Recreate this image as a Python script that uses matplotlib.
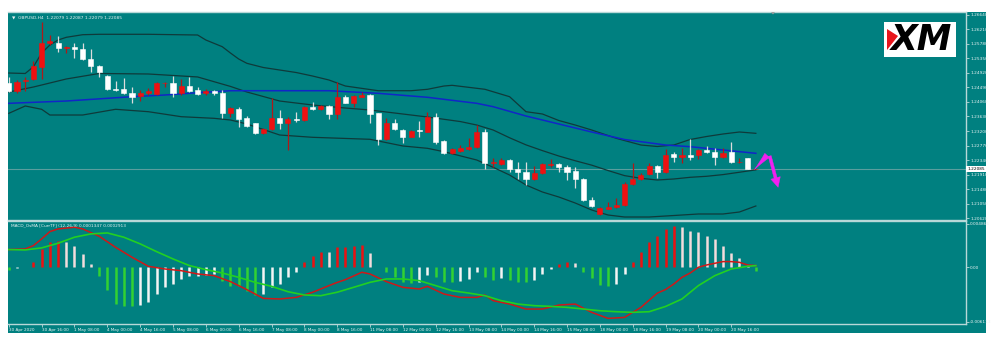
import numpy as np
import matplotlib
matplotlib.use("Agg")
import matplotlib.pyplot as plt
from matplotlib.patches import Rectangle, Polygon
import matplotlib.transforms as mtransforms

W, H = 999, 344
TEAL = "#008080"
RED = "#ee1111"
BAND = "#0f3a3a"
BLUE = "#1126c8"
FRAME = "#b8d8d8"
TXT = "#e8f2f2"

# GBPUSD H4 candles, bar 0 = 30 Apr 2020 00:00
opens = [1.2462, 1.2438, 1.2467, 1.2473, 1.2510, 1.2580, 1.2581, 1.2565, 1.2568, 1.2562,
         1.2532, 1.2512, 1.2483, 1.2445, 1.2443, 1.2432, 1.2424, 1.2432, 1.2430, 1.2461,
         1.2461, 1.2432, 1.2453, 1.2441, 1.2432, 1.2437, 1.2432, 1.2373, 1.2384, 1.2358,
         1.2343, 1.2313, 1.2325, 1.2358, 1.2343, 1.2355, 1.2353, 1.2392, 1.2384, 1.2394,
         1.2369, 1.2422, 1.2404, 1.2422, 1.2427, 1.2373, 1.2295, 1.2343, 1.2323, 1.2303,
         1.2323, 1.2318, 1.2361, 1.2290, 1.2254, 1.2262, 1.2266, 1.2274, 1.2318, 1.2226,
         1.2221, 1.2234, 1.2207, 1.2200, 1.2177, 1.2195, 1.2219, 1.2221, 1.2214, 1.2202,
         1.2177, 1.2116, 1.2074, 1.2089, 1.2094, 1.2101, 1.2162, 1.2177, 1.2192, 1.2216,
         1.2200, 1.2251, 1.2242, 1.2249, 1.2249, 1.2264, 1.2259, 1.2242, 1.2259, 1.2227,
         1.2239, 1.22079]
highs = [1.2480, 1.2471, 1.2481, 1.2528, 1.2644, 1.2604, 1.2601, 1.2572, 1.2580, 1.2581,
         1.2562, 1.2515, 1.2486, 1.2469, 1.2476, 1.2451, 1.2441, 1.2446, 1.2466, 1.2466,
         1.2483, 1.2473, 1.2481, 1.2451, 1.2444, 1.2441, 1.2441, 1.2390, 1.2390, 1.2364,
         1.2345, 1.2329, 1.2417, 1.2382, 1.2362, 1.2377, 1.2394, 1.2407, 1.2397, 1.2397,
         1.2466, 1.2427, 1.2426, 1.2436, 1.2429, 1.2374, 1.2358, 1.2355, 1.2325, 1.2323,
         1.2351, 1.2377, 1.2373, 1.2293, 1.2270, 1.2279, 1.2298, 1.2338, 1.2325, 1.2239,
         1.2239, 1.2236, 1.2229, 1.2229, 1.2216, 1.2226, 1.2236, 1.2226, 1.2219, 1.2214,
         1.2180, 1.2124, 1.2095, 1.2111, 1.2121, 1.2170, 1.2224, 1.2195, 1.2226, 1.2219,
         1.2266, 1.2259, 1.2269, 1.2295, 1.2266, 1.2276, 1.2269, 1.2269, 1.2288, 1.2239,
         1.2240, 1.22087]
lows = [1.2435, 1.2434, 1.2439, 1.2471, 1.2473, 1.2575, 1.2555, 1.2550, 1.2535, 1.2530,
        1.2496, 1.2481, 1.2441, 1.2439, 1.2430, 1.2404, 1.2410, 1.2427, 1.2427, 1.2451,
        1.2420, 1.2427, 1.2436, 1.2427, 1.2426, 1.2427, 1.2358, 1.2362, 1.2333, 1.2332,
        1.2311, 1.2311, 1.2323, 1.2325, 1.2264, 1.2348, 1.2351, 1.2382, 1.2382, 1.2355,
        1.2355, 1.2402, 1.2390, 1.2420, 1.2345, 1.2279, 1.2293, 1.2323, 1.2284, 1.2301,
        1.2303, 1.2316, 1.2282, 1.2252, 1.2252, 1.2259, 1.2264, 1.2269, 1.2207, 1.2213,
        1.2219, 1.2200, 1.2177, 1.2160, 1.2175, 1.2193, 1.2214, 1.2200, 1.2175, 1.2151,
        1.2114, 1.2095, 1.2071, 1.2088, 1.2091, 1.2099, 1.2160, 1.2175, 1.2190, 1.2180,
        1.2197, 1.2229, 1.2224, 1.2234, 1.2236, 1.2256, 1.2219, 1.2239, 1.2225, 1.2225,
        1.2207, 1.22079]
closes = [1.2438, 1.2466, 1.2472, 1.2513, 1.2581, 1.2586, 1.2565, 1.2570, 1.2562, 1.2533,
          1.2512, 1.2494, 1.2443, 1.2441, 1.2432, 1.2422, 1.2433, 1.2439, 1.2463, 1.2463,
          1.2432, 1.2453, 1.2439, 1.2430, 1.2438, 1.2433, 1.2373, 1.2387, 1.2357, 1.2335,
          1.2315, 1.2325, 1.2358, 1.2343, 1.2355, 1.2353, 1.2392, 1.2384, 1.2394, 1.2369,
          1.2422, 1.2404, 1.2424, 1.2427, 1.2369, 1.2295, 1.2343, 1.2325, 1.2303, 1.2321,
          1.2319, 1.2361, 1.2288, 1.2256, 1.2266, 1.2269, 1.2274, 1.2318, 1.2224, 1.2227,
          1.2234, 1.2207, 1.2200, 1.2177, 1.2195, 1.2221, 1.2221, 1.2214, 1.2200, 1.2177,
          1.2116, 1.2098, 1.2091, 1.2094, 1.2101, 1.2162, 1.2177, 1.2190, 1.2216, 1.2200,
          1.2249, 1.2244, 1.2249, 1.2242, 1.2264, 1.2258, 1.2244, 1.2256, 1.2227, 1.2229,
          1.2208, 1.22085]

# Bollinger bands and moving average (bar index, price)
upper_bar = [0, 2, 3, 4, 5, 6, 7, 9, 11, 17, 23, 24, 26, 27, 28, 29, 31, 33, 35, 37, 39, 41,
             45, 49, 51, 53, 54, 56, 58, 61, 63, 65, 67, 69, 71, 74, 77, 79, 81, 83, 85, 87,
             89, 91]
upper_val = [1.24917, 1.24903, 1.25104, 1.25509, 1.25746, 1.25894, 1.25974, 1.26051, 1.26063,
             1.26063, 1.26042, 1.25894, 1.25696, 1.25509, 1.25332, 1.25204, 1.25080, 1.25006,
             1.24932, 1.24828, 1.24710, 1.24532, 1.24393, 1.24393, 1.24435, 1.24532, 1.24553,
             1.24494, 1.24435, 1.24216, 1.23772, 1.23704, 1.23511, 1.23378, 1.23230, 1.22984,
             1.22786, 1.22742, 1.22786, 1.22949, 1.23038, 1.23112, 1.23171, 1.23132]
mid_bar = [0, 3, 7, 11, 17, 23, 27, 29, 33, 37, 41, 44, 47, 51, 55, 57, 59, 61, 63, 65, 67,
           69, 71, 73, 75, 77, 79, 81, 83, 85, 87, 89, 91]
mid_val = [1.24355, 1.24503, 1.24740, 1.24903, 1.24888, 1.24800, 1.24520, 1.24355, 1.24088,
           1.23970, 1.23881, 1.23822, 1.23733, 1.23615, 1.23480, 1.23378, 1.23230, 1.23000,
           1.22790, 1.22620, 1.22460, 1.22320, 1.22190, 1.22030, 1.21880, 1.21800, 1.21750,
           1.21780, 1.21830, 1.21860, 1.21910, 1.21980, 1.22050]
lower_bar = [0, 2, 4, 5, 9, 13, 17, 21, 25, 27, 29, 33, 37, 44, 48, 51, 53, 57, 59, 61, 63,
             65, 67, 69, 71, 73, 75, 78, 81, 84, 87, 89, 91]
lower_val = [1.23724, 1.23941, 1.23843, 1.23674, 1.23674, 1.23843, 1.23772, 1.23624, 1.23576,
             1.23526, 1.23408, 1.23082, 1.23014, 1.22955, 1.22757, 1.22688, 1.22588, 1.22342,
             1.22126, 1.21898, 1.21602, 1.21395, 1.21247, 1.21069, 1.20862, 1.20714, 1.20655,
             1.20655, 1.20699, 1.20744, 1.20744, 1.20803, 1.20981]
ma_bar = [0, 7, 15, 19, 23, 27, 39, 45, 51, 57, 59, 63, 67, 71, 75, 80, 83, 87, 91]
ma_val = [1.24020, 1.24088, 1.24216, 1.24266, 1.24334, 1.24393, 1.24393, 1.24316, 1.24198,
          1.24020, 1.23920, 1.23644, 1.23408, 1.23171, 1.22949, 1.22786, 1.22736, 1.22638,
          1.22540]

# projected path drawn after the last bar
path_bar = [90.6, 92.6, 93.8]
path_val = [1.22000, 1.22540, 1.21454]

last_price = 1.22085
price_ticks = [1.26640 - 0.0043 * k for k in range(15)]

# MACD_OsMA sub-window
osma = [-0.00030, -0.00005, 0.00003, 0.00064, 0.00206, 0.00289, 0.00300, 0.00289, 0.00244, 0.00150,
        0.00037, -0.00094, -0.00251, -0.00413, -0.00439, -0.00440, -0.00424, -0.00386, -0.00300, -0.00218,
        -0.00188, -0.00131, -0.00101, -0.00094, -0.00086, -0.00075, -0.00150, -0.00206, -0.00214, -0.00263,
        -0.00310, -0.00300, -0.00225, -0.00188, -0.00105, -0.00049, 0.00056, 0.00124, 0.00176, 0.00169,
        0.00225, 0.00230, 0.00244, 0.00251, 0.00161, 0.00003, -0.00056, -0.00113, -0.00169, -0.00176,
        -0.00169, -0.00086, -0.00105, -0.00161, -0.00169, -0.00158, -0.00131, -0.00056, -0.00113, -0.00139,
        -0.00124, -0.00139, -0.00161, -0.00169, -0.00143, -0.00075, -0.00019, 0.00037, 0.00056, 0.00045,
        -0.00049, -0.00124, -0.00199, -0.00206, -0.00188, -0.00075, 0.00064, 0.00176, 0.00289, 0.00349,
        0.00431, 0.00462, 0.00458, 0.00413, 0.00394, 0.00356, 0.00319, 0.00244, 0.00161, 0.00101,
        0.00026, -0.00037]
macd_bar = [0, 2, 3, 4, 5, 6, 8, 9, 11, 13, 15, 17, 19, 21, 23, 25, 27, 29, 31, 33, 35, 37, 39,
            40, 41, 43, 44, 46, 48, 50, 51, 53, 55, 57, 58, 59, 61, 63, 65, 67, 69, 71, 73, 75,
            77, 79, 80, 81, 82, 83, 84, 85, 86, 87, 88, 89, 90, 91]
macd_val = [0.00199, 0.00206, 0.00244, 0.00319, 0.00401, 0.00431, 0.00450, 0.00431, 0.00349,
            0.00225, 0.00113, 0.00011, -0.00019, -0.00038, -0.00075, -0.00094, -0.00161, -0.00251,
            -0.00349, -0.00356, -0.00338, -0.00281, -0.00206, -0.00170, -0.00139, -0.00056,
            -0.00075, -0.00161, -0.00225, -0.00244, -0.00214, -0.00300, -0.00338, -0.00338,
            -0.00311, -0.00375, -0.00413, -0.00469, -0.00469, -0.00424, -0.00413, -0.00506,
            -0.00574, -0.00563, -0.00450, -0.00290, -0.00250, -0.00188, -0.00113, -0.00064, 0.0,
            0.00026, 0.00045, 0.00064, 0.00064, 0.00056, 0.00026, 0.00019]
signal_bar = [0, 2, 4, 6, 8, 10, 12, 14, 16, 18, 20, 22, 24, 26, 28, 30, 32, 34, 36, 38, 40,
              42, 44, 46, 48, 50, 52, 54, 56, 58, 60, 62, 64, 66, 68, 70, 72, 74, 76, 78, 80,
              82, 84, 86, 88, 90, 91]
signal_val = [0.00199, 0.00195, 0.00218, 0.00270, 0.00338, 0.00375, 0.00386, 0.00338, 0.00263,
              0.00176, 0.00094, 0.00019, -0.00026, -0.00064, -0.00113, -0.00169, -0.00214,
              -0.00274, -0.00311, -0.00319, -0.00280, -0.00225, -0.00169, -0.00131, -0.00131,
              -0.00150, -0.00206, -0.00263, -0.00289, -0.00319, -0.00375, -0.00413, -0.00431,
              -0.00439, -0.00450, -0.00469, -0.00488, -0.00499, -0.00506, -0.00499, -0.00440,
              -0.00356, -0.00206, -0.00094, -0.00019, 0.00011, 0.00019]
macd_ticks = [0.004865, 0.0, -0.006113]
macd_tick_labels = ["0.004865", "0.00", "-0.006113"]

time_bar = list(range(0, 89, 4))
time_labels = ["30 Apr 2020", "30 Apr 16:00", "1 May 08:00", "4 May 00:00", "4 May 16:00",
               "5 May 08:00", "6 May 00:00", "6 May 16:00", "7 May 08:00", "8 May 00:00",
               "8 May 16:00", "11 May 08:00", "12 May 00:00", "12 May 16:00", "13 May 08:00",
               "14 May 00:00", "14 May 16:00", "15 May 08:00", "18 May 00:00", "18 May 16:00",
               "19 May 08:00", "20 May 00:00", "20 May 16:00"]


def fx(px):
    return px / W


def fy(py):
    return 1 - py / H


fig = plt.figure(figsize=(W / 100, H / 100), dpi=100)
fig.patch.set_facecolor("white")
fig.patches.append(Rectangle((fx(8), fy(333)), fx(986) - fx(8), fy(12) - fy(333),
                             transform=fig.transFigure, facecolor=TEAL, edgecolor="none",
                             zorder=-5))

ax = fig.add_axes([fx(8), fy(219.5), fx(966) - fx(8), fy(12) - fy(219.5)])
mx = fig.add_axes([fx(8), fy(324), fx(966) - fx(8), fy(221) - fy(324)])

XLIM = (-0.1, 116.6)
for a in (ax, mx):
    a.set_facecolor(TEAL)
    a.set_xlim(*XLIM)
    a.spines["left"].set_visible(False)
    for s in ("top", "bottom", "right"):
        a.spines[s].set_color(FRAME)
        a.spines[s].set_linewidth(1.0)
    a.yaxis.tick_right()
    a.tick_params(axis="y", direction="out", length=2, width=0.6, color=FRAME,
                  labelsize=3.1, labelcolor=TXT, pad=1)

# ---- price window ----
ax.set_ylim(1.20581, 1.26723)
o, h, l, c = map(np.array, (opens, highs, lows, closes))
x = np.arange(len(o))
up = c > o
body_col = np.where(up, RED, "white")
wick_col = np.where(up, "#b01818", "#dcdcdc")
ax.vlines(x, l, h, colors=wick_col, lw=0.9, zorder=3)
ax.bar(x, np.maximum(np.abs(c - o), 0.00004), bottom=np.minimum(o, c), width=0.62,
       color=body_col, edgecolor=body_col, linewidth=0.4, zorder=4)

ax.axhline(last_price, color="#5a9e9e", lw=0.8, zorder=1)
ax.plot(upper_bar, upper_val, color=BAND, lw=0.9, zorder=2)
ax.plot(mid_bar, mid_val, color=BAND, lw=0.9, zorder=2)
ax.plot(lower_bar, lower_val, color=BAND, lw=0.9, zorder=2)
ax.plot(ma_bar, ma_val, color=BLUE, lw=1.1, zorder=2)

MAG = "#f020f0"
ax.annotate("", xy=(path_bar[0], path_val[0]), xytext=(path_bar[1], path_val[1]),
            arrowprops=dict(arrowstyle="wedge,tail_width=0.45,shrink_factor=0.4",
                            color=MAG, lw=0.3), zorder=6)
ax.annotate("", xy=(path_bar[2], path_val[2]), xytext=(path_bar[1], path_val[1]),
            arrowprops=dict(arrowstyle="simple,head_length=0.7,head_width=0.7,tail_width=0.22",
                            color=MAG, lw=0.3), zorder=6)

ax.set_xticks([])
ax.set_yticks(price_ticks)
ax.set_yticklabels([f"{p:.5f}" for p in price_ticks])
ytr = mtransforms.blended_transform_factory(ax.transAxes, ax.transData)
ax.text(1.0015, last_price, f"{last_price:.5f}", transform=ytr, fontsize=3.1,
        color="black", va="center", ha="left",
        bbox=dict(boxstyle="square,pad=0.25", fc="white", ec="none"))
ax.text(0.004, 0.985, "\u25bc  GBPUSD,H4  1.22079 1.22087 1.22079 1.22085",
        transform=ax.transAxes, fontsize=3.2, color=TXT, va="top", ha="left")

# logo box
fig.patches.append(Rectangle((fx(884), fy(57)), fx(956) - fx(884), fy(22) - fy(57),
                             transform=fig.transFigure, facecolor="white",
                             edgecolor="none", zorder=5))
fig.patches.append(Polygon([(fx(887), fy(29)), (fx(898), fy(36)), (fx(887), fy(50))],
                           closed=True, transform=fig.transFigure, facecolor="#e8161c",
                           edgecolor="none", zorder=6))
fig.text(fx(921), fy(40), "XM", fontsize=25, fontweight="heavy", fontstyle="italic",
         color="black", ha="center", va="center", zorder=7)
fig.patches.append(Polygon([(fx(771), fy(12)), (fx(775), fy(12)), (fx(773), fy(14.5))],
                           closed=True, transform=fig.transFigure, facecolor="#a0a0a0",
                           edgecolor="none", zorder=6))

# ---- MACD window ----
mx.set_ylim(-0.00637, 0.00520)
hist_col = []
prev = 0.0
for v in osma:
    if v >= 0:
        hist_col.append(RED if v > prev else "#f3dcdc")
    else:
        hist_col.append("#32d232" if v < prev else "#f4f4f4")
    prev = v
mx.vlines(x, 0, osma, colors=hist_col, lw=1.8, zorder=2)
mx.plot(macd_bar, macd_val, color="#d01818", lw=1.1, zorder=3)
mx.plot(signal_bar, signal_val, color="#22d022", lw=1.2, zorder=3)
mx.set_yticks(macd_ticks)
mx.set_yticklabels(macd_tick_labels)
mx.set_xticks(time_bar)
mx.set_xticklabels(time_labels, ha="left")
mx.tick_params(axis="x", direction="out", length=2, width=0.6, color=FRAME,
               labelsize=3.0, labelcolor=TXT, pad=1)
mx.text(0.003, 0.975, "MACD_OsMA [CurrTF] (12,26,9) 0.0001347 0.0002913",
        transform=mx.transAxes, fontsize=3.1, color=TXT, va="top", ha="left")

fig.savefig("out.png", dpi=100, facecolor="white")
